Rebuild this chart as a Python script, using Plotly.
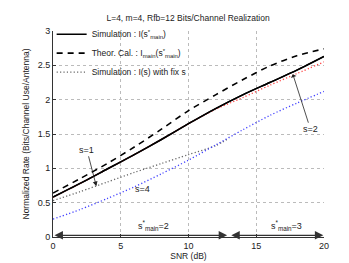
import plotly.graph_objects as go

snr = [0, 2, 4, 6, 8, 10, 12, 14, 16, 18, 20]
sim_opt = [0.58, 0.78, 0.99, 1.20, 1.42, 1.65, 1.87, 2.07, 2.25, 2.43, 2.63]
theor = [0.64, 0.85, 1.07, 1.31, 1.57, 1.84, 2.07, 2.29, 2.49, 2.64, 2.74]
sim_s2 = [0.58, 0.78, 0.99, 1.20, 1.42, 1.65, 1.86, 2.03, 2.21, 2.38, 2.55]
sim_s4 = [0.26, 0.40, 0.56, 0.73, 0.92, 1.12, 1.34, 1.56, 1.77, 1.95, 2.12]
snr_s1 = [0, 2, 4, 6, 8, 10, 12, 13]
sim_s1 = [0.53, 0.66, 0.80, 0.94, 1.07, 1.20, 1.33, 1.44]

x_ticks = [0, 5, 10, 15, 20]
y_ticks = [0, 0.5, 1, 1.5, 2, 2.5, 3]
y_tick_text = ["0", "0.5", "1", "1.5", "2", "2.5", "3"]
region_edges = [0, 12.85, 13.05, 19.95]
region_labels = ["s<sup>*</sup><sub>main</sub>=2", "s<sup>*</sup><sub>main</sub>=3"]

FONT = "Liberation Sans, Arial, sans-serif"
DOT = "1.2px,2.2px"

fig = go.Figure()
fig.add_trace(go.Scatter(x=snr, y=sim_opt, mode="lines",
                         line=dict(color="black", width=1.5, shape="spline", smoothing=0.8),
                         name="Simulation : I(s<sup>*</sup><sub>main</sub>)"))
fig.add_trace(go.Scatter(x=snr, y=theor, mode="lines",
                         line=dict(color="black", width=1.6, dash="6px,5px", shape="spline", smoothing=0.8),
                         name="Theor. Cal. : I<sub>main</sub>(s<sup>*</sup><sub>main</sub>)"))
fig.add_trace(go.Scatter(x=snr_s1, y=sim_s1, mode="lines",
                         line=dict(color="#666666", width=1.3, dash=DOT, shape="spline", smoothing=0.8),
                         name="Simulation : I(s) with fix s"))
fig.add_trace(go.Scatter(x=snr, y=sim_s2, mode="lines",
                         line=dict(color="#ff4040", width=1.3, dash=DOT, shape="spline", smoothing=0.8),
                         showlegend=False))
fig.add_trace(go.Scatter(x=snr, y=sim_s4, mode="lines",
                         line=dict(color="#4040ff", width=1.3, dash=DOT, shape="spline", smoothing=0.8),
                         showlegend=False))
fig.add_trace(go.Scatter(x=snr, y=sim_opt, mode="lines",
                         line=dict(color="black", width=1.5, shape="spline", smoothing=0.8),
                         showlegend=False))

ann = []
ann.append(dict(x=3.2, y=0.74, ax=2.5, ay=1.27, axref="x", ayref="y",
                text="s=1", showarrow=True, arrowhead=2, arrowsize=1.2,
                arrowwidth=0.8, arrowcolor="#222", font=dict(size=9, color="#222", family=FONT)))
ann.append(dict(x=6.6, y=0.70, text="s=4", showarrow=False,
                font=dict(size=9, color="#222", family=FONT)))
ann.append(dict(x=17.7, y=2.37, ax=19.0, ay=1.57, axref="x", ayref="y",
                text="s=2", showarrow=True, arrowhead=1, arrowsize=1.2,
                arrowwidth=0.8, arrowcolor="#222", font=dict(size=9, color="#222", family=FONT)))
for (x0, x1) in [(region_edges[0], region_edges[1]), (region_edges[2], region_edges[3])]:
    ann.append(dict(x=x1, y=0.025, ax=x0, ay=0.025, axref="x", ayref="y",
                    text="", showarrow=True, arrowhead=2, arrowside="end+start",
                    arrowsize=1.3, arrowwidth=1.3, arrowcolor="#333", standoff=0, startstandoff=0))
ann.append(dict(x=7.4, y=0.17, text=region_labels[0], showarrow=False,
                font=dict(size=9, color="#222", family=FONT)))
ann.append(dict(x=17.2, y=0.17, text=region_labels[1], showarrow=False,
                font=dict(size=9, color="#222", family=FONT)))

fig.update_layout(
    width=349, height=263,
    margin=dict(l=45, r=33, t=20, b=31),
    paper_bgcolor="white", plot_bgcolor="white",
    font=dict(family=FONT, size=9, color="#222"),
    title=dict(text="L=4, m=4, Rfb=12 Bits/Channel Realization",
               x=0.516, xanchor="center", y=0.962, yanchor="middle",
               font=dict(size=8.5, family=FONT, color="#222")),
    showlegend=True,
    legend=dict(x=-0.005, y=1.055, xanchor="left", yanchor="top",
                bgcolor="rgba(255,255,255,0)", borderwidth=0,
                font=dict(size=8.5, family=FONT, color="#222"),
                tracegroupgap=0, itemwidth=30),
    annotations=ann,
)
fig.update_xaxes(range=[0, 20], tickvals=x_ticks, ticktext=[str(t) for t in x_ticks],
                 showgrid=True, gridcolor="#bbbbbb", griddash="dot", gridwidth=1,
                 showline=True, linecolor="#333", linewidth=1, ticks="inside",
                 ticklen=3, tickcolor="#333", zeroline=False,
                 title=dict(text="SNR (dB)", standoff=2, font=dict(size=8.5)),
                 tickfont=dict(size=9))
fig.update_yaxes(range=[0, 3], tickvals=y_ticks, ticktext=y_tick_text,
                 showgrid=True, gridcolor="#bbbbbb", griddash="dot", gridwidth=1,
                 showline=True, linecolor="#333", linewidth=1, ticks="inside",
                 ticklen=3, tickcolor="#333", zeroline=False,
                 title=dict(text="Normalized Rate (Bits/Channel Use/Antenna)", standoff=6,
                            font=dict(size=8.5)),
                 tickfont=dict(size=9))

fig.write_html("out.html")
